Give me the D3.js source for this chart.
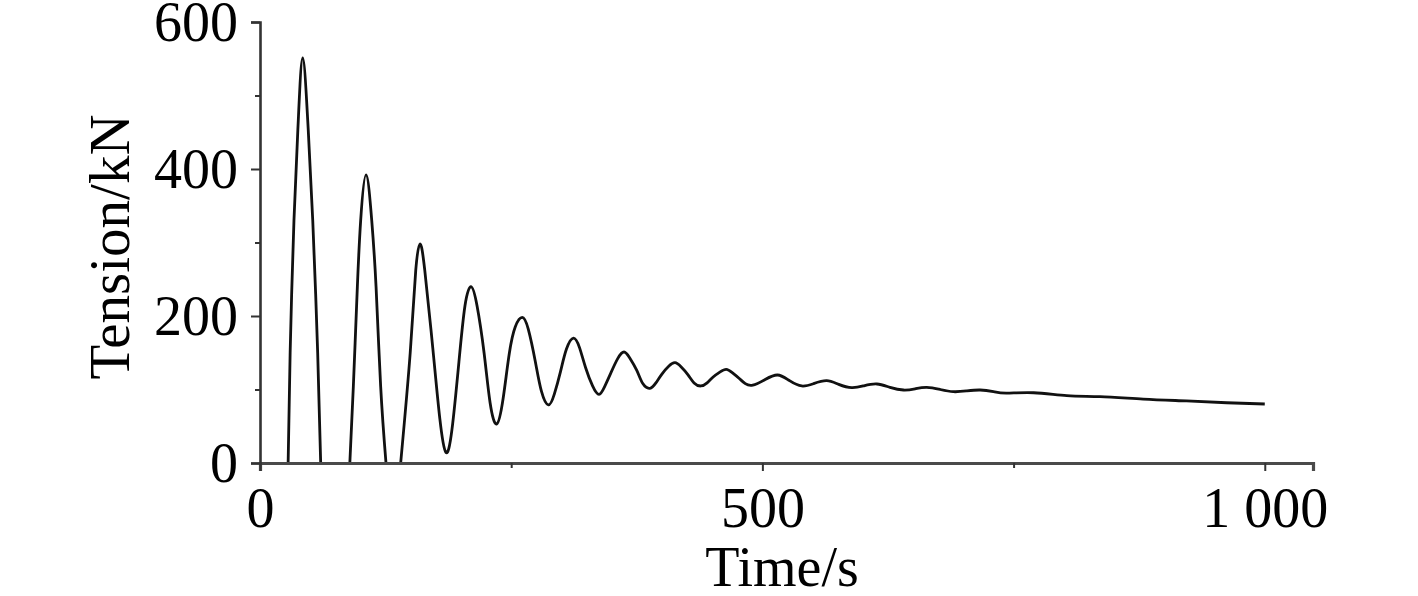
<!DOCTYPE html>
<html>
<head>
<meta charset="utf-8">
<script src="https://cdn.jsdelivr.net/npm/d3@7"></script>
<style>
  body { margin: 0; background: #fff; }
  svg { display: block; }
</style>
</head>
<body>
<div id="chart"></div>
<script>
// Time (s) and tension (kN)
const timeS = [
  0, 20, 28, 30, 33.8, 38.1, 42.5, 47.5, 52.5, 57.4, 60.4, 75, 89.4,
  92.9, 96.9, 100.2, 105.5, 111.2, 115.5, 120.1, 125.4, 132, 140,
  149.5, 155, 159.3, 164, 172, 179, 185, 191, 198, 204, 210, 216, 223,
  229, 235.6, 242, 248, 254, 261, 267, 274, 280, 287, 293, 299, 305,
  312, 318, 324, 331, 337.4, 343, 349, 356, 362.3, 368, 375, 381, 388,
  394, 400, 407, 413, 419, 426, 432, 438.7, 445, 451, 458, 464, 470,
  477, 483, 490.4, 502, 515, 527, 539.2, 551, 564, 576, 589, 601, 614,
  627, 640.4, 652, 663.6, 677, 690, 703, 716.7, 730, 743, 770, 803, 836,
  879, 922, 962, 1000
];
const tensionKN = [
  0, 0, 0, 150, 330, 466, 551, 466, 330, 150, 0, 0, 0,
  104, 240, 330, 392, 330, 240, 104, 0, 0, 0,
  150, 262, 298, 262, 156, 60, 14.5, 45, 138, 214, 240, 214, 150,
  82, 53, 88, 148, 185, 198, 182, 138, 98, 79, 94, 124, 155,
  170, 157, 130, 105, 93.5, 104, 122, 142, 151, 143, 126, 108, 101.6,
  109, 121, 132, 136.5, 131, 120, 109, 104.8, 109, 117, 124, 127.5, 123,
  115, 108, 106, 113, 119.7, 112, 104.8, 108, 112, 107, 102.5, 105, 107.5,
  103, 99.3, 101, 103, 100, 97, 98, 99.3, 97, 95, 95.6, 91.6, 90.2,
  87, 84.4, 82, 80.3
];

const xTicks = [0, 250, 500, 750, 1000];
const xLabels = [0, 500, 1000];
const yTicks = [0, 100, 200, 300, 400, 500, 600];
const yLabels = [0, 200, 400, 600];

const data = timeS.map((t, i) => ({ t: t, v: tensionKN[i] }));

// split into taut stretches (slack parts sit on the axis and are not drawn)
const segments = [];
let cur = [];
data.forEach((d, i) => {
    const prev = data[i - 1], next = data[i + 1];
    const active = d.v > 0 || (prev && prev.v > 0) || (next && next.v > 0);
    if (active) {
        cur.push(d);
    } else if (cur.length) {
        segments.push(cur);
        cur = [];
    }
});
if (cur.length) segments.push(cur);

const W = 1418, H = 596;
const plotLeft = 260, plotRight = 1313, plotTop = 22, plotBottom = 463;
const font = "'Liberation Serif', 'Times New Roman', serif";

const svg = d3.select("#chart").append("svg")
    .attr("width", W)
    .attr("height", H);

const x = d3.scaleLinear().domain([0, 1048]).range([plotLeft, plotRight]);
const y = d3.scaleLinear().domain([0, 600]).range([plotBottom, plotTop]);

// clip so the curve never goes below the axis
svg.append("clipPath").attr("id", "clip")
  .append("rect")
    .attr("x", plotLeft).attr("y", 0)
    .attr("width", plotRight - plotLeft).attr("height", plotBottom);

const line = d3.line()
    .x(d => x(d.t))
    .y(d => y(d.v))
    .curve(d3.curveNatural);

svg.selectAll(".curve")
    .data(segments)
    .enter()
    .append("path")
        .attr("class", "curve")
        .attr("clip-path", "url(#clip)")
        .attr("fill", "none")
        .attr("stroke", "#111")
        .attr("stroke-width", 2.8)
        .attr("stroke-linejoin", "round")
        .attr("d", d => line(d));

const fmt = d3.formatLocale({ decimal: ".", thousands: " ", grouping: [3], currency: ["", ""] }).format(",");

// x axis
const gx = svg.append("g")
    .attr("transform", `translate(0, ${plotBottom})`)
    .call(d3.axisBottom(x)
        .tickValues(xTicks)
        .tickSize(8)
        .tickFormat(d => xLabels.includes(d) ? fmt(d) : ""));
gx.select(".domain")
    .attr("stroke", "#4a4a4a")
    .attr("stroke-width", 3.2);
gx.selectAll(".tick line")
    .attr("stroke", "#333")
    .attr("stroke-width", 2)
    .attr("y2", d => xLabels.includes(d) ? 8 : 5);
gx.selectAll(".tick text")
    .attr("y", 64)
    .attr("dy", null)
    .style("font-family", font)
    .style("font-size", "56px")
    .style("fill", "#000");

// y axis
const gy = svg.append("g")
    .attr("transform", `translate(${plotLeft}, 0)`)
    .call(d3.axisLeft(y)
        .tickValues(yTicks)
        .tickSize(9)
        .tickFormat(d => yLabels.includes(d) ? d : ""));
gy.select(".domain")
    .attr("stroke", "#333")
    .attr("stroke-width", 2.6);
gy.selectAll(".tick line")
    .attr("stroke", "#333")
    .attr("stroke-width", 2)
    .attr("x2", d => yLabels.includes(d) ? -9 : -5);
gy.selectAll(".tick text")
    .attr("x", -22)
    .attr("dy", "0.33em")
    .style("font-family", font)
    .style("font-size", "56px")
    .style("fill", "#000");

// axis titles
svg.append("text")
    .attr("x", 782)
    .attr("y", 586)
    .attr("text-anchor", "middle")
    .style("font-family", font)
    .style("font-size", "56px")
    .text("Time/s");

svg.append("text")
    .attr("transform", "translate(129, 247) rotate(-90)")
    .attr("text-anchor", "middle")
    .style("font-family", font)
    .style("font-size", "57px")
    .text("Tension/kN");
</script>
</body>
</html>
